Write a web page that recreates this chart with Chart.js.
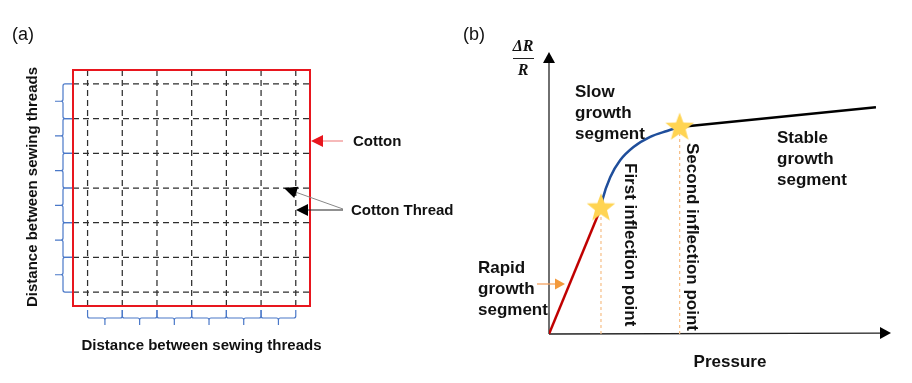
<!DOCTYPE html>
<html><head><meta charset="utf-8">
<script src="https://cdn.jsdelivr.net/npm/chart.js@4"></script>
<style>
html,body{margin:0;padding:0;background:#fff;}
#wrap{position:relative;width:912px;height:383px;overflow:hidden;}
#a{position:absolute;left:0;top:0;}
#b{position:absolute;left:460px;top:0;}
</style></head><body>
<div id="wrap"><canvas id="a" width="460" height="383"></canvas><canvas id="b" width="452" height="383"></canvas></div>
<script>
// ---------- data ----------
// Panel (a): thread positions (index of sewing thread)
const warpThreads = [0, 1, 2, 3, 4, 5, 6];
const weftThreads = [0, 1, 2, 3, 4, 5, 6];
// Panel (b): response curve (Pressure vs ΔR/R, arbitrary units)
const rapidPressure  = [0, 1.52];
const rapidResponse  = [0, 4.48];
const slowPressure   = [1.52, 1.57, 1.79, 2.08, 2.47, 2.96, 3.45, 3.82];
const slowResponse   = [4.48, 4.79, 5.56, 6.16, 6.63, 6.99, 7.20, 7.34];
const stablePressure = [3.82, 9.56];
const stableResponse = [7.34, 8.04];
const inflectionPressure = [1.52, 3.82];
const inflectionResponse = [4.48, 7.34];
const inflectionLabels = ['First inflection point', 'Second inflection point'];
const segmentLabels = {
  rapid: ['Rapid', 'growth', 'segment'],
  slow: ['Slow', 'growth', 'segment'],
  stable: ['Stable', 'growth', 'segment']
};
const axisLabelX = 'Pressure';
const fabricLabel = 'Distance between sewing threads';

const FONT = '"Liberation Sans", Arial, sans-serif';
const zip = (xs, ys) => xs.map((x, i) => ({x, y: ys[i]}));

function arrow(ctx, x1, y1, x2, y2, lineColor, headColor, headLen, headHalf, lw) {
  const ang = Math.atan2(y2 - y1, x2 - x1);
  const bx = x2 - Math.cos(ang) * headLen, by = y2 - Math.sin(ang) * headLen;
  ctx.save();
  ctx.strokeStyle = lineColor; ctx.lineWidth = lw;
  ctx.beginPath(); ctx.moveTo(x1, y1); ctx.lineTo(bx, by); ctx.stroke();
  ctx.fillStyle = headColor;
  ctx.beginPath();
  ctx.moveTo(x2, y2);
  ctx.lineTo(bx + Math.sin(ang) * headHalf, by - Math.cos(ang) * headHalf);
  ctx.lineTo(bx - Math.sin(ang) * headHalf, by + Math.cos(ang) * headHalf);
  ctx.closePath(); ctx.fill();
  ctx.restore();
}

// ---------- panel (a) ----------
const aMin = -0.42, aMax = 6.41, aYMin = -0.4, aYMax = 6.4;
const threadStyle = {borderColor: '#2e2e2e', borderWidth: 1.25, borderDash: [6, 4], pointRadius: 0, showLine: true, fill: false};
const aDatasets = [
  ...warpThreads.map(v => Object.assign({data: [{x: v, y: aYMin}, {x: v, y: aYMax}]}, threadStyle)),
  ...weftThreads.map(v => Object.assign({data: [{x: aMin, y: v}, {x: aMax, y: v}]}, threadStyle))
];

const fabricDecor = {
  id: 'fabricDecor',
  afterDatasetsDraw(chart) {
    const {ctx, chartArea: ca, scales: {x, y}} = chart;
    ctx.save();
    // cotton fabric border
    ctx.strokeStyle = '#E8161E'; ctx.lineWidth = 2;
    ctx.strokeRect(ca.left, ca.top, ca.right - ca.left, ca.bottom - ca.top);
    // left braces
    ctx.strokeStyle = '#4A78C8'; ctx.lineWidth = 1.2;
    const x0 = ca.left - 10;
    for (let i = 0; i < weftThreads.length - 1; i++) {
      const y1 = y.getPixelForValue(weftThreads[i + 1]), y2 = y.getPixelForValue(weftThreads[i]);
      const m = (y1 + y2) / 2;
      ctx.beginPath();
      ctx.moveTo(ca.left - 1, y1); ctx.lineTo(x0 + 2, y1);
      ctx.quadraticCurveTo(x0, y1, x0, y1 + 2);
      ctx.lineTo(x0, m - 2); ctx.quadraticCurveTo(x0, m, x0 - 2, m); ctx.lineTo(x0 - 8, m);
      ctx.moveTo(x0 - 2, m); ctx.quadraticCurveTo(x0, m, x0, m + 2);
      ctx.lineTo(x0, y2 - 2); ctx.quadraticCurveTo(x0, y2, x0 + 2, y2); ctx.lineTo(ca.left - 1, y2);
      ctx.stroke();
    }
    // bottom braces
    const y0 = ca.bottom + 12;
    for (let i = 0; i < warpThreads.length - 1; i++) {
      const x1 = x.getPixelForValue(warpThreads[i]), x2 = x.getPixelForValue(warpThreads[i + 1]);
      const m = (x1 + x2) / 2;
      ctx.beginPath();
      ctx.moveTo(x1, ca.bottom + 4); ctx.lineTo(x1, y0 - 2);
      ctx.quadraticCurveTo(x1, y0, x1 + 2, y0);
      ctx.lineTo(m - 2, y0); ctx.quadraticCurveTo(m, y0, m, y0 + 2); ctx.lineTo(m, y0 + 7);
      ctx.moveTo(m, y0 + 2); ctx.quadraticCurveTo(m, y0, m + 2, y0);
      ctx.lineTo(x2 - 2, y0); ctx.quadraticCurveTo(x2, y0, x2, y0 - 2); ctx.lineTo(x2, ca.bottom + 4);
      ctx.stroke();
    }
    // texts
    ctx.fillStyle = '#111';
    ctx.font = '18px ' + FONT; ctx.textBaseline = 'middle'; ctx.textAlign = 'left';
    ctx.fillText('(a)', 12, 35);
    ctx.font = 'bold 15px ' + FONT; ctx.textAlign = 'center';
    ctx.fillText(fabricLabel, (ca.left + ca.right) / 2 + 10, ca.bottom + 40);
    ctx.save(); ctx.translate(33, (ca.top + ca.bottom) / 2 - 1); ctx.rotate(-Math.PI / 2);
    ctx.fillText(fabricLabel, 0, 0); ctx.restore();
    ctx.textAlign = 'left';
    ctx.fillText('Cotton', 353, 142);
    ctx.fillText('Cotton Thread', 351, 211);
    ctx.restore();
    // annotation arrows
    arrow(ctx, 343, 141, ca.right + 1, 141, '#F08A8A', '#E8161E', 12, 6, 1.2);
    arrow(ctx, 343, 209, 284, 188, '#888', '#000', 13, 6, 1);
    arrow(ctx, 343, 210, 296, 210, '#222', '#000', 12, 6, 1);
  }
};

new Chart(document.getElementById('a'), {
  type: 'scatter',
  data: {datasets: aDatasets},
  options: {
    responsive: false, animation: false, devicePixelRatio: 1,
    layout: {padding: {left: 73, right: 150, top: 70, bottom: 77}},
    scales: {
      x: {type: 'linear', min: aMin, max: aMax, display: false},
      y: {type: 'linear', min: aYMin, max: aYMax, display: false}
    },
    plugins: {legend: {display: false}, tooltip: {enabled: false}}
  },
  plugins: [fabricDecor]
});

// ---------- panel (b) ----------
const starImg = document.createElement('canvas');
starImg.width = 32; starImg.height = 32;
(() => {
  const c = starImg.getContext('2d');
  c.fillStyle = '#FFD452';
  c.beginPath();
  for (let i = 0; i < 10; i++) {
    const r = i % 2 === 0 ? 15 : 6.3;
    const a = -Math.PI / 2 + i * Math.PI / 5;
    const px = 16 + r * Math.cos(a), py = 16.5 + r * Math.sin(a);
    i === 0 ? c.moveTo(px, py) : c.lineTo(px, py);
  }
  c.closePath(); c.fill();
})();

const bDatasets = [
  {data: zip(inflectionPressure, inflectionResponse), pointStyle: starImg, pointRadius: 15, showLine: false, order: 0},
  {data: zip(rapidPressure, rapidResponse), borderColor: '#C00000', borderWidth: 2.5, pointRadius: 0, showLine: true, order: 1},
  {data: zip(slowPressure, slowResponse), borderColor: '#1F4E9B', borderWidth: 2.5, pointRadius: 0, showLine: true, cubicInterpolationMode: 'monotone', order: 1},
  {data: zip(stablePressure, stableResponse), borderColor: '#000', borderWidth: 2.5, pointRadius: 0, showLine: true, order: 1},
  ...inflectionPressure.map((p, i) => ({data: [{x: p, y: 0}, {x: p, y: inflectionResponse[i]}], borderColor: '#F6BE86', borderWidth: 1.2, borderDash: [3, 3], pointRadius: 0, showLine: true, order: 2}))
];

const curveDecor = {
  id: 'curveDecor',
  beforeDatasetsDraw(chart) {
    const {ctx, chartArea: ca, scales: {x, y}} = chart;
    const ox = x.getPixelForValue(0), oy = y.getPixelForValue(0);
    arrow(ctx, ox, oy, ox, ca.top, '#222', '#000', 11, 6, 1.3);
    arrow(ctx, ox, oy, ca.right, oy - 1, '#222', '#000', 11, 6, 1.3);
  },
  afterDatasetsDraw(chart) {
    const {ctx} = chart;
    ctx.save();
    ctx.fillStyle = '#111';
    ctx.textBaseline = 'middle'; ctx.textAlign = 'left';
    ctx.font = '18px ' + FONT;
    ctx.fillText('(b)', 3, 35);
    // ΔR / R
    ctx.textAlign = 'center';
    ctx.font = 'italic bold 16px "Liberation Serif", "Times New Roman", serif';
    ctx.fillText('ΔR', 63, 47);
    ctx.fillText('R', 63, 71);
    ctx.strokeStyle = '#222'; ctx.lineWidth = 1;
    ctx.beginPath(); ctx.moveTo(53, 58.5); ctx.lineTo(74, 58.5); ctx.stroke();
    // segment labels
    ctx.textAlign = 'left';
    ctx.font = 'bold 17px ' + FONT;
    segmentLabels.slow.forEach((t, i) => ctx.fillText(t, 115, 92 + i * 21));
    segmentLabels.stable.forEach((t, i) => ctx.fillText(t, 317, 138 + i * 21));
    segmentLabels.rapid.forEach((t, i) => ctx.fillText(t, 18, 268 + i * 21));
    ctx.textAlign = 'center';
    ctx.fillText(axisLabelX, 270, 362);
    // rotated inflection labels
    const rot = [[170, 163], [232, 143]];
    inflectionLabels.forEach((t, i) => {
      ctx.save(); ctx.translate(rot[i][0], rot[i][1]); ctx.rotate(Math.PI / 2);
      ctx.textAlign = 'left'; ctx.fillText(t, 0, 0); ctx.restore();
    });
    ctx.restore();
    arrow(ctx, 77, 284, 105, 284, '#F4A261', '#F39A3C', 10, 5.5, 1.3);
  }
};

new Chart(document.getElementById('b'), {
  type: 'scatter',
  data: {datasets: bDatasets},
  options: {
    responsive: false, animation: false, devicePixelRatio: 1,
    layout: {padding: {left: 89, right: 21, top: 52, bottom: 49}},
    scales: {
      x: {type: 'linear', min: 0, max: 10, display: false},
      y: {type: 'linear', min: 0, max: 10, display: false}
    },
    plugins: {legend: {display: false}, tooltip: {enabled: false}}
  },
  plugins: [curveDecor]
});
</script>
</body></html>
